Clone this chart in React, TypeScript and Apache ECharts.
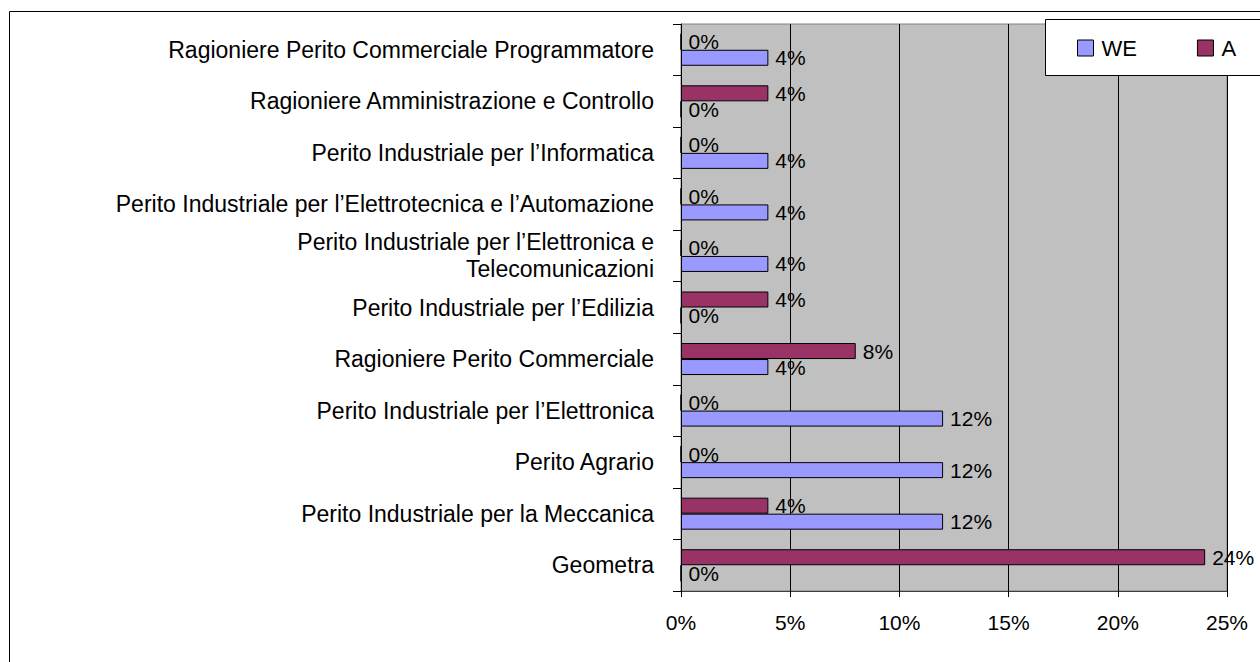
import React, { useEffect, useRef } from "react";
import * as echarts from "echarts";

const categories = [
  "Geometra",
  "Perito Industriale per la Meccanica",
  "Perito Agrario",
  "Perito Industriale per l’Elettronica",
  "Ragioniere Perito Commerciale",
  "Perito Industriale per l’Edilizia",
  "Perito Industriale per l’Elettronica e\nTelecomunicazioni",
  "Perito Industriale per l’Elettrotecnica e l’Automazione",
  "Perito Industriale per l’Informatica",
  "Ragioniere Amministrazione e Controllo",
  "Ragioniere Perito Commerciale Programmatore",
];
const weValues = [0, 12, 12, 12, 4, 0, 4, 4, 4, 0, 4];
const aValues = [24, 4, 0, 0, 8, 4, 0, 0, 0, 4, 0];
const xTicks = [0, 5, 10, 15, 20, 25];

const FONT = "'Liberation Sans', Arial, sans-serif";

export default function App() {
  const ref = useRef<HTMLDivElement>(null);
  useEffect(() => {
    if (!ref.current) return;
    const chart = echarts.init(ref.current, null, { renderer: "svg" });
    const labelCfg = {
      show: true,
      position: "right",
      distance: 7,
      color: "#000",
      fontSize: 21,
      fontFamily: FONT,
      formatter: (p: any) => `${p.value}%`,
    };
    chart.setOption({
      animation: false,
      backgroundColor: "#fff",
      textStyle: { fontFamily: FONT },
      graphic: [
        {
          type: "rect",
          shape: { x: 9.5, y: 11.5, width: 1300, height: 700 },
          style: { fill: "none", stroke: "#000", lineWidth: 1 },
          silent: true,
          z: -10,
        },
        {
          type: "rect",
          shape: { x: 1045.5, y: 19.5, width: 230, height: 56 },
          style: { fill: "#fff", stroke: "#000", lineWidth: 1 },
          silent: true,
          z: 10,
        },
      ],
      legend: {
        data: ["WE", "A"],
        left: 1077,
        top: 37,
        itemWidth: 16,
        itemHeight: 16,
        itemGap: 60,
        icon: "rect",
        padding: 0,
        z: 20,
        itemStyle: { borderColor: "#000", borderWidth: 1 },
        textStyle: { fontSize: 22, color: "#000", fontFamily: FONT, padding: [0, 0, 0, 3] },
      },
      grid: {
        left: 681,
        top: 24,
        right: 33,
        bottom: 71,
        containLabel: false,
        show: true,
        backgroundColor: "#C0C0C0",
        borderColor: "#808080",
        borderWidth: 1,
      },
      xAxis: {
        type: "value",
        min: 0,
        max: 25,
        interval: 5,
        axisLine: { show: true, lineStyle: { color: "#404040", width: 1 } },
        axisTick: { show: true, length: 6, lineStyle: { color: "#000" } },
        splitLine: { show: true, lineStyle: { color: "#000", width: 1 } },
        axisLabel: {
          color: "#000",
          fontSize: 21,
          fontFamily: FONT,
          margin: 21,
          formatter: (v: number) => (xTicks.includes(v) ? `${v}%` : ""),
        },
      },
      yAxis: {
        type: "category",
        data: categories,
        axisLine: { show: true, lineStyle: { color: "#000", width: 1 } },
        axisTick: { show: true, length: 8, lineStyle: { color: "#000" } },
        axisLabel: {
          color: "#000",
          fontSize: 23,
          fontFamily: FONT,
          margin: 27,
          lineHeight: 27,
          align: "right",
          interval: 0,
        },
      },
      series: [
        {
          name: "A",
          type: "bar",
          data: aValues,
          barWidth: 16,
          barGap: "0%",
          itemStyle: { color: "#993366", borderColor: "#000", borderWidth: 1 },
          label: labelCfg,
        },
        {
          name: "WE",
          type: "bar",
          data: weValues,
          barWidth: 16,
          barGap: "0%",
          itemStyle: { color: "#9999FF", borderColor: "#000", borderWidth: 1 },
          label: labelCfg,
        },
      ],
    });
    return () => chart.dispose();
  }, []);
  return (
    <div
      ref={ref}
      style={{ position: "fixed", left: 0, top: 0, width: 1260, height: 662 }}
    />
  );
}
